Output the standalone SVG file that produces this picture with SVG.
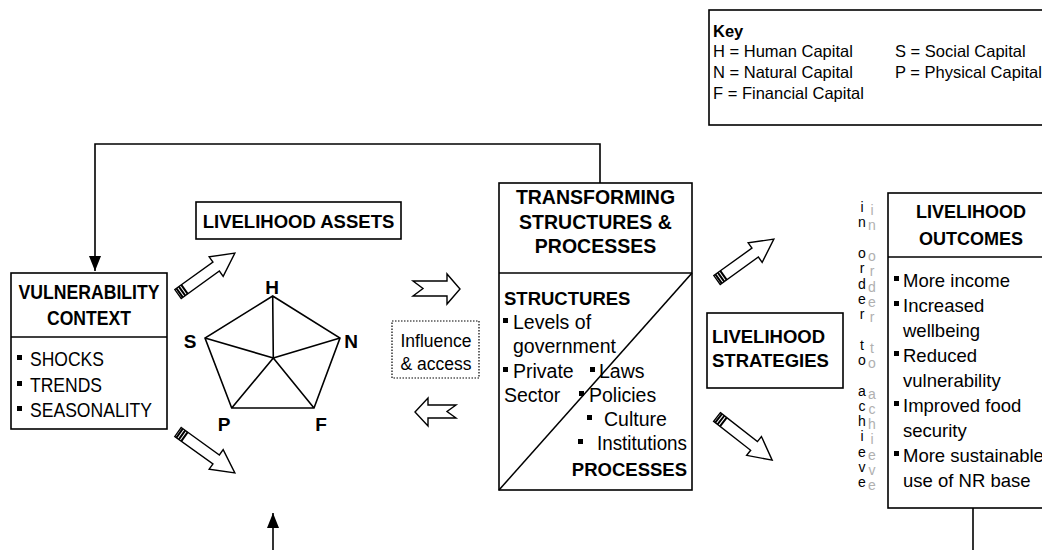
<svg xmlns="http://www.w3.org/2000/svg" width="1042" height="550" viewBox="0 0 1042 550">
<style>
text{font-family:"Liberation Sans",Arial,sans-serif;fill:#000}
.b{font-weight:bold}
.box{fill:#fff;stroke:#000;stroke-width:1.6}
.ln{fill:none;stroke:#000;stroke-width:1.6}
.k{font-size:16.5px}
.vc{font-size:20px}
.t{font-size:19.5px}
.tb{font-size:19.5px;font-weight:bold}
.lo{font-size:18.5px}
.pl{font-size:19px;font-weight:bold}
.v{font-size:14px;text-anchor:middle}
.g{fill:#b0b0b0}
.m{text-anchor:middle}
.e{text-anchor:end}
.hol{fill:#fff;stroke:#000;stroke-width:1.4;stroke-linejoin:miter}
</style>
<defs>
<marker id="ah" viewBox="0 0 15 12" markerWidth="15" markerHeight="12" refX="15" refY="6" orient="auto" markerUnits="userSpaceOnUse">
<path d="M0,0 L15,6 L0,12 Z" fill="#000"/>
</marker>
<g id="pen">
<path d="M0,-5.5 H47 V-12 L70,0 L47,12 V5.5 H0 Z" fill="#fff" stroke="#000" stroke-width="1.4"/>
<path d="M2,-5.5 V5.5 M5,-5.5 V5.5 M8,-5.5 V5.5" stroke="#000" stroke-width="2"/>
</g>
<rect id="bul" width="5" height="5"/>
</defs>

<g id="connectors">
<path class="ln" d="M600,183 V144 H95 V271" marker-end="url(#ah)"/>
<path class="ln" d="M273,550 V513" marker-end="url(#ah)"/>
<path class="ln" d="M973,508 V550"/>
<use href="#pen" transform="translate(178,294) rotate(-35.7)"/>
<use href="#pen" transform="translate(178,432) rotate(35.7)"/>
<use href="#pen" transform="translate(717,280) rotate(-35.7)"/>
<use href="#pen" transform="translate(717,417) rotate(38)"/>
<path class="hol" d="M413,281 L447,281 L447,274 L460,289 L447,304 L447,296 L413,296 L423,288.5 Z"/>
<path class="hol" d="M415,412 L428,398 L428,405 L456,405 L447,411.5 L456,418 L428,418 L428,426 Z"/>
</g>

<g id="key">
<rect class="box" x="709" y="10" width="345" height="115" stroke-width="2"/>
<text class="k b" x="713" y="37">Key</text>
<text class="k" x="713" y="57">H = Human Capital</text>
<text class="k" x="713" y="78">N = Natural Capital</text>
<text class="k" x="713" y="99">F = Financial Capital</text>
<text class="k" x="895" y="57">S = Social Capital</text>
<text class="k" x="895" y="78">P = Physical Capital</text>
</g>

<g id="vulnerability">
<rect class="box" x="11" y="273" width="156" height="156"/>
<line class="ln" x1="11" y1="337" x2="167" y2="337"/>
<text class="vc b m" x="89" y="299" textLength="141" lengthAdjust="spacingAndGlyphs">VULNERABILITY</text>
<text class="vc b m" x="89" y="325" textLength="84" lengthAdjust="spacingAndGlyphs">CONTEXT</text>
<use href="#bul" x="17" y="355"/>
<text class="vc" x="30" y="366" textLength="74" lengthAdjust="spacingAndGlyphs">SHOCKS</text>
<use href="#bul" x="17" y="381"/>
<text class="vc" x="30" y="392" textLength="72" lengthAdjust="spacingAndGlyphs">TRENDS</text>
<use href="#bul" x="17" y="406"/>
<text class="vc" x="30" y="417" textLength="122" lengthAdjust="spacingAndGlyphs">SEASONALITY</text>
</g>

<g id="assets">
<rect class="box" x="196" y="202" width="205" height="37"/>
<text class="lo b m" x="298.5" y="228">LIVELIHOOD ASSETS</text>
</g>

<g id="pentagon">
<path class="ln" d="M272.7,296 L340,338 L314,408 L231.7,408 L205,338 Z M273.3,358 L272.7,296 M273.3,358 L340,338 M273.3,358 L314,408 M273.3,358 L231.7,408 M273.3,358 L205,338"/>
<text class="pl m" x="272" y="294">H</text>
<text class="pl m" x="190" y="348">S</text>
<text class="pl m" x="351" y="348">N</text>
<text class="pl m" x="224" y="431">P</text>
<text class="pl m" x="321" y="431">F</text>
</g>

<g id="influence">
<rect x="392" y="321" width="87" height="57" fill="#fff" stroke="#000" stroke-width="1.2" stroke-dasharray="1.5 1.5"/>
<text class="m" style="font-size:17.5px" x="436" y="347">Influence</text>
<text class="m" style="font-size:17.5px" x="436" y="370">&amp; access</text>
</g>

<g id="transforming">
<rect class="box" x="499" y="183" width="193" height="307"/>
<line class="ln" x1="499" y1="273" x2="692" y2="273"/>
<line class="ln" x1="499" y1="490" x2="692" y2="273"/>
<text class="tb m" x="595.5" y="204">TRANSFORMING</text>
<text class="tb m" x="595.5" y="229">STRUCTURES &amp;</text>
<text class="tb m" x="595.5" y="253">PROCESSES</text>
<text class="b" style="font-size:18.5px" x="504" y="305">STRUCTURES</text>
<use href="#bul" x="503" y="318"/>
<text class="t" x="513" y="329">Levels of</text>
<text class="t" x="513" y="353">government</text>
<use href="#bul" x="503" y="367"/>
<text class="t" x="513" y="378">Private</text>
<use href="#bul" x="590" y="367"/>
<text class="t" x="599" y="378">Laws</text>
<text class="t" x="504" y="402">Sector</text>
<use href="#bul" x="579" y="391"/>
<text class="t" x="589" y="402">Policies</text>
<use href="#bul" x="587" y="415"/>
<text class="t" x="604" y="426">Culture</text>
<use href="#bul" x="578" y="439"/>
<text class="t" x="597" y="450" textLength="90" lengthAdjust="spacingAndGlyphs">Institutions</text>
<text class="b e" style="font-size:18.5px" x="687" y="476">PROCESSES</text>
</g>

<g id="strategies">
<rect class="box" x="707" y="313" width="136" height="75"/>
<text class="lo b" x="712" y="343">LIVELIHOOD</text>
<text class="lo b" x="712" y="367">STRATEGIES</text>
</g>

<g id="in-order-to-achieve">
<text class="v g" x="872" y="215">i</text><text class="v" x="862" y="212">i</text>
<text class="v g" x="872" y="230">n</text><text class="v" x="862" y="227">n</text>
<text class="v g" x="872" y="261">o</text><text class="v" x="862" y="258">o</text>
<text class="v g" x="872" y="276">r</text><text class="v" x="862" y="273">r</text>
<text class="v g" x="872" y="292">d</text><text class="v" x="862" y="289">d</text>
<text class="v g" x="872" y="307">e</text><text class="v" x="862" y="304">e</text>
<text class="v g" x="872" y="322">r</text><text class="v" x="862" y="319">r</text>
<text class="v g" x="872" y="353">t</text><text class="v" x="862" y="350">t</text>
<text class="v g" x="872" y="368">o</text><text class="v" x="862" y="365">o</text>
<text class="v g" x="872" y="399">a</text><text class="v" x="862" y="396">a</text>
<text class="v g" x="872" y="414">c</text><text class="v" x="862" y="411">c</text>
<text class="v g" x="872" y="429">h</text><text class="v" x="862" y="426">h</text>
<text class="v g" x="872" y="444">i</text><text class="v" x="862" y="441">i</text>
<text class="v g" x="872" y="460">e</text><text class="v" x="862" y="457">e</text>
<text class="v g" x="872" y="475">v</text><text class="v" x="862" y="472">v</text>
<text class="v g" x="872" y="490">e</text><text class="v" x="862" y="487">e</text>
</g>

<g id="outcomes">
<rect class="box" x="888" y="193" width="170" height="315"/>
<line class="ln" x1="888" y1="257" x2="1050" y2="257"/>
<text class="b m" style="font-size:18px" x="971" y="218">LIVELIHOOD</text>
<text class="b m" style="font-size:18px" x="971" y="245">OUTCOMES</text>
<use href="#bul" x="894" y="276"/>
<text class="lo" x="903" y="287">More income</text>
<use href="#bul" x="894" y="301"/>
<text class="lo" x="903" y="312">Increased</text>
<text class="lo" x="903" y="337">wellbeing</text>
<use href="#bul" x="894" y="351"/>
<text class="lo" x="903" y="362">Reduced</text>
<text class="lo" x="903" y="387">vulnerability</text>
<use href="#bul" x="894" y="401"/>
<text class="lo" x="903" y="412">Improved food</text>
<text class="lo" x="903" y="437">security</text>
<use href="#bul" x="894" y="451"/>
<text class="lo" x="903" y="462">More sustainable</text>
<text class="lo" x="903" y="487">use of NR base</text>
</g>
</svg>
